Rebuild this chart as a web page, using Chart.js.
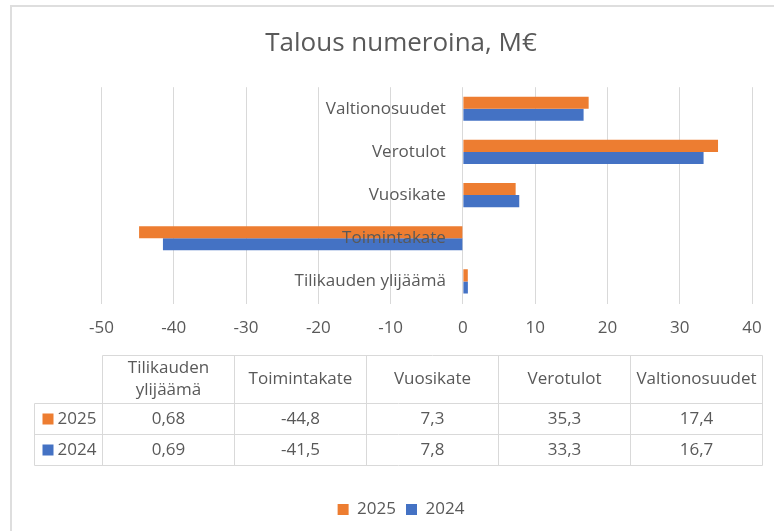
<!DOCTYPE html>
<html>
<head>
<meta charset="utf-8">
<script src="https://cdn.jsdelivr.net/npm/chart.js@4.4.1/dist/chart.umd.min.js"></script>
<style>
html, body { margin: 0; padding: 0; background: #fff; overflow: hidden; }
#frame { position: absolute; left: 10px; top: 5px; width: 778px; height: 540px; border: 2px solid #dedede; }
canvas { display: block; }
</style>
</head>
<body>
<div id="frame"><canvas id="chart" width="778" height="540"></canvas></div>
<script>
// data
const categories = ['Tilikauden ylijäämä', 'Toimintakate', 'Vuosikate', 'Verotulot', 'Valtionosuudet']
const seriesNames = ['2025', '2024']
const values2025 = [0.68, -44.8, 7.3, 35.3, 17.4]
const values2024 = [0.69, -41.5, 7.8, 33.3, 16.7]
const xTicks = [-50, -40, -30, -20, -10, 0, 10, 20, 30, 40]

const textColor = '#595959'
const gridColor = '#d9d9d9'
const colors = ['#ED7D31', '#4472C4']
const fontFamily = '"Open Sans", Lato, sans-serif'

Chart.defaults.font.family = fontFamily
Chart.defaults.color = textColor

const fmt = v => String(v).replace('.', ',')

// Excel style data table under the plot
const dataTable = {
    id: 'dataTable',
    afterDraw(chart) {
        const ctx = chart.ctx
        const area = chart.chartArea
        const left = Math.round(area.left) + 0.5
        const right = Math.round(area.right + 10) + 0.5
        const colW = (right - left) / categories.length
        const top = Math.round(area.bottom + 52) + 0.5
        const headH = 48, rowH = 31
        const labelLeft = left - 68
        const bottom = top + headH + rowH * seriesNames.length

        const line = (x1, y1, x2, y2) => {
            ctx.beginPath(); ctx.moveTo(x1, y1); ctx.lineTo(x2, y2); ctx.stroke()
        }

        ctx.save()
        ctx.strokeStyle = gridColor
        ctx.lineWidth = 1
        line(left, top, right, top)
        for (let r = 0; r <= seriesNames.length; r++) {
            const y = top + headH + r * rowH
            line(labelLeft, y, right, y)
        }
        line(labelLeft, top + headH, labelLeft, bottom)
        for (let i = 0; i <= categories.length; i++) {
            const x = left + i * colW
            line(x, top, x, bottom)
        }

        ctx.font = '17px ' + fontFamily
        ctx.fillStyle = textColor
        ctx.textAlign = 'center'
        ctx.textBaseline = 'middle'

        // header, wrapped when too wide
        categories.forEach((cat, i) => {
            const cx = left + (i + 0.5) * colW
            let lines = [cat]
            if (ctx.measureText(cat).width > colW - 6) lines = cat.split(' ')
            const lh = 22
            lines.forEach((t, k) => {
                ctx.fillText(t, cx, top + headH / 2 + (k - (lines.length - 1) / 2) * lh)
            })
        })

        const rows = [values2025, values2024]
        rows.forEach((vals, r) => {
            const cy = top + headH + (r + 0.5) * rowH
            ctx.fillStyle = colors[r]
            ctx.fillRect(labelLeft + 8, cy - 5.5, 11, 11)
            ctx.fillStyle = textColor
            ctx.textAlign = 'left'
            ctx.fillText(seriesNames[r], labelLeft + 23, cy)
            ctx.textAlign = 'center'
            vals.forEach((v, i) => {
                ctx.fillText(fmt(v), left + (i + 0.5) * colW, cy)
            })
        })
        ctx.restore()
    }
}

new Chart(document.getElementById('chart').getContext('2d'), {
    type: 'bar',
    data: {
        labels: categories,
        datasets: [
            { label: seriesNames[0], data: values2025, backgroundColor: colors[0] },
            { label: seriesNames[1], data: values2024, backgroundColor: colors[1] }
        ]
    },
    options: {
        indexAxis: 'y',
        responsive: false,
        animation: false,
        devicePixelRatio: 1,
        categoryPercentage: 0.56,
        barPercentage: 1,
        layout: { padding: { bottom: 19 } },
        plugins: {
            title: {
                display: true,
                text: 'Talous numeroina, M€',
                color: textColor,
                font: { size: 26, weight: 'normal' },
                padding: { top: 21, bottom: 28 }
            },
            legend: {
                position: 'bottom',
                labels: { boxWidth: 11, boxHeight: 11, font: { size: 17 }, color: textColor, padding: 10 }
            },
            tooltip: { enabled: false }
        },
        scales: {
            x: {
                min: xTicks[0],
                max: xTicks[xTicks.length - 1],
                afterBuildTicks: s => { s.ticks = xTicks.map(v => ({ value: v })) },
                afterFit: s => {
                    s.height = 188
                    s.paddingLeft = 89.5
                    s.paddingRight = 38
                },
                grid: { color: gridColor, tickColor: gridColor, tickLength: 1 },
                border: { display: false },
                ticks: { font: { size: 17 }, color: textColor, padding: 14, maxRotation: 0 }
            },
            y: {
                reverse: true,
                position: { x: -2.35 },
                grid: { display: false },
                border: { display: false },
                ticks: { font: { size: 17 }, color: textColor, z: 1 }
            }
        }
    },
    plugins: [dataTable]
})
</script>
</body>
</html>
